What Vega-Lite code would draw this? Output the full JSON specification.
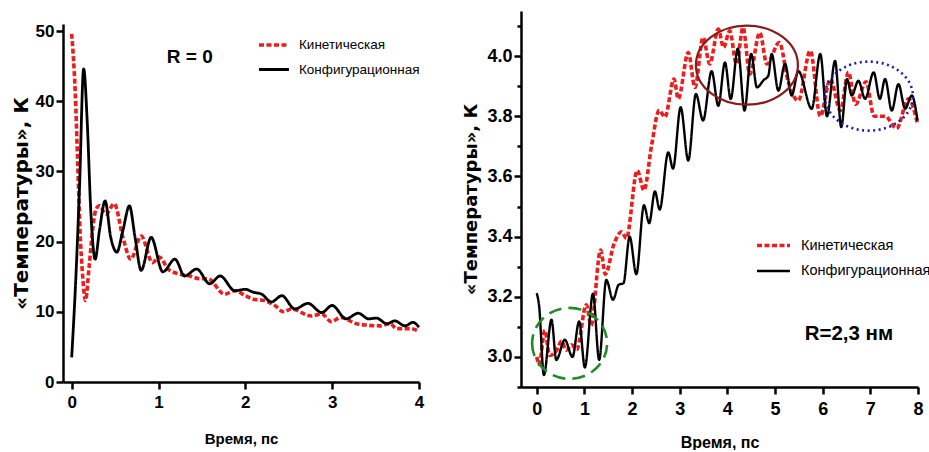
{
  "$schema": "https://vega.github.io/schema/vega-lite/v6.json",
  "background": "white",
  "padding": {"left": 11, "top": 11, "right": 2, "bottom": 0},
  "spacing": 38,
  "datasets": {
    "left": [
      {"t": 0, "T": 49.6, "series": "Кинетическая"},
      {"t": 0.04, "T": 41.5, "series": "Кинетическая"},
      {"t": 0.07, "T": 31, "series": "Кинетическая"},
      {"t": 0.096, "T": 21.6, "series": "Кинетическая"},
      {"t": 0.127, "T": 15, "series": "Кинетическая"},
      {"t": 0.158, "T": 11.6, "series": "Кинетическая"},
      {"t": 0.2, "T": 16.3, "series": "Кинетическая"},
      {"t": 0.24, "T": 21.6, "series": "Кинетическая"},
      {"t": 0.28, "T": 24.6, "series": "Кинетическая"},
      {"t": 0.32, "T": 25.1, "series": "Кинетическая"},
      {"t": 0.395, "T": 23.9, "series": "Кинетическая"},
      {"t": 0.49, "T": 25.4, "series": "Кинетическая"},
      {"t": 0.59, "T": 20.6, "series": "Кинетическая"},
      {"t": 0.68, "T": 17.5, "series": "Кинетическая"},
      {"t": 0.8, "T": 20.8, "series": "Кинетическая"},
      {"t": 0.93, "T": 17.0, "series": "Кинетическая"},
      {"t": 1.01, "T": 17.8, "series": "Кинетическая"},
      {"t": 1.11, "T": 16.1, "series": "Кинетическая"},
      {"t": 1.23, "T": 15.4, "series": "Кинетическая"},
      {"t": 1.36, "T": 15.1, "series": "Кинетическая"},
      {"t": 1.48, "T": 14.7, "series": "Кинетическая"},
      {"t": 1.57, "T": 14.7, "series": "Кинетическая"},
      {"t": 1.76, "T": 12.5, "series": "Кинетическая"},
      {"t": 1.88, "T": 13.0, "series": "Кинетическая"},
      {"t": 2.0, "T": 12.3, "series": "Кинетическая"},
      {"t": 2.09, "T": 11.8, "series": "Кинетическая"},
      {"t": 2.22, "T": 11.6, "series": "Кинетическая"},
      {"t": 2.34, "T": 10.9, "series": "Кинетическая"},
      {"t": 2.44, "T": 10.0, "series": "Кинетическая"},
      {"t": 2.53, "T": 10.4, "series": "Кинетическая"},
      {"t": 2.76, "T": 9.4, "series": "Кинетическая"},
      {"t": 2.88, "T": 9.7, "series": "Кинетическая"},
      {"t": 2.99, "T": 8.6, "series": "Кинетическая"},
      {"t": 3.1, "T": 9.2, "series": "Кинетическая"},
      {"t": 3.28, "T": 8.3, "series": "Кинетическая"},
      {"t": 3.4, "T": 8.1, "series": "Кинетическая"},
      {"t": 3.55, "T": 8.0, "series": "Кинетическая"},
      {"t": 3.67, "T": 8.3, "series": "Кинетическая"},
      {"t": 3.74, "T": 7.6, "series": "Кинетическая"},
      {"t": 3.9, "T": 7.6, "series": "Кинетическая"},
      {"t": 4.0, "T": 7.2, "series": "Кинетическая"},
      {"t": 0, "T": 3.5, "series": "Конфигурационная"},
      {"t": 0.05, "T": 15.4, "series": "Конфигурационная"},
      {"t": 0.09, "T": 27.7, "series": "Конфигурационная"},
      {"t": 0.138, "T": 44.6, "series": "Конфигурационная"},
      {"t": 0.18, "T": 36.8, "series": "Конфигурационная"},
      {"t": 0.22, "T": 24.4, "series": "Конфигурационная"},
      {"t": 0.27, "T": 17.5, "series": "Конфигурационная"},
      {"t": 0.32, "T": 21.6, "series": "Конфигурационная"},
      {"t": 0.385, "T": 25.8, "series": "Конфигурационная"},
      {"t": 0.45, "T": 20.6, "series": "Конфигурационная"},
      {"t": 0.52, "T": 18.5, "series": "Конфигурационная"},
      {"t": 0.59, "T": 21.6, "series": "Конфигурационная"},
      {"t": 0.665, "T": 25.1, "series": "Конфигурационная"},
      {"t": 0.73, "T": 20.6, "series": "Конфигурационная"},
      {"t": 0.8, "T": 15.9, "series": "Конфигурационная"},
      {"t": 0.915, "T": 20.6, "series": "Конфигурационная"},
      {"t": 1.05, "T": 15.7, "series": "Конфигурационная"},
      {"t": 1.19, "T": 17.5, "series": "Конфигурационная"},
      {"t": 1.3, "T": 15.1, "series": "Конфигурационная"},
      {"t": 1.44, "T": 16.1, "series": "Конфигурационная"},
      {"t": 1.59, "T": 14.0, "series": "Конфигурационная"},
      {"t": 1.71, "T": 15.1, "series": "Конфигурационная"},
      {"t": 1.88, "T": 13.0, "series": "Конфигурационная"},
      {"t": 2.0, "T": 13.2, "series": "Конфигурационная"},
      {"t": 2.09, "T": 12.8, "series": "Конфигурационная"},
      {"t": 2.19, "T": 12.5, "series": "Конфигурационная"},
      {"t": 2.3, "T": 11.4, "series": "Конфигурационная"},
      {"t": 2.42, "T": 12.3, "series": "Конфигурационная"},
      {"t": 2.57, "T": 10.4, "series": "Конфигурационная"},
      {"t": 2.72, "T": 11.2, "series": "Конфигурационная"},
      {"t": 2.88, "T": 9.9, "series": "Конфигурационная"},
      {"t": 3.0, "T": 10.9, "series": "Конфигурационная"},
      {"t": 3.16, "T": 9.0, "series": "Конфигурационная"},
      {"t": 3.3, "T": 9.8, "series": "Конфигурационная"},
      {"t": 3.42, "T": 9.0, "series": "Конфигурационная"},
      {"t": 3.51, "T": 9.1, "series": "Конфигурационная"},
      {"t": 3.63, "T": 8.3, "series": "Конфигурационная"},
      {"t": 3.72, "T": 8.7, "series": "Конфигурационная"},
      {"t": 3.84, "T": 8.0, "series": "Конфигурационная"},
      {"t": 3.93, "T": 8.5, "series": "Конфигурационная"},
      {"t": 4.0, "T": 7.8, "series": "Конфигурационная"}
    ],
    "right": [
      {"t": 0, "T": 3.0, "series": "Кинетическая"},
      {"t": 0.05, "T": 2.975, "series": "Кинетическая"},
      {"t": 0.17, "T": 3.088, "series": "Кинетическая"},
      {"t": 0.27, "T": 3.005, "series": "Кинетическая"},
      {"t": 0.41, "T": 3.02, "series": "Кинетическая"},
      {"t": 0.52, "T": 3.052, "series": "Кинетическая"},
      {"t": 0.62, "T": 3.022, "series": "Кинетическая"},
      {"t": 0.73, "T": 3.04, "series": "Кинетическая"},
      {"t": 0.84, "T": 3.025, "series": "Кинетическая"},
      {"t": 1.04, "T": 3.173, "series": "Кинетическая"},
      {"t": 1.14, "T": 3.105, "series": "Кинетическая"},
      {"t": 1.34, "T": 3.355, "series": "Кинетическая"},
      {"t": 1.44, "T": 3.275, "series": "Кинетическая"},
      {"t": 1.62, "T": 3.375, "series": "Кинетическая"},
      {"t": 1.78, "T": 3.416, "series": "Кинетическая"},
      {"t": 1.88, "T": 3.394, "series": "Кинетическая"},
      {"t": 2.11, "T": 3.62, "series": "Кинетическая"},
      {"t": 2.25, "T": 3.554, "series": "Кинетическая"},
      {"t": 2.41, "T": 3.703, "series": "Кинетическая"},
      {"t": 2.57, "T": 3.82, "series": "Кинетическая"},
      {"t": 2.69, "T": 3.797, "series": "Кинетическая"},
      {"t": 2.88, "T": 3.924, "series": "Кинетическая"},
      {"t": 2.97, "T": 3.858, "series": "Кинетическая"},
      {"t": 3.18, "T": 4.012, "series": "Кинетическая"},
      {"t": 3.32, "T": 3.896, "series": "Кинетическая"},
      {"t": 3.49, "T": 4.062, "series": "Кинетическая"},
      {"t": 3.63, "T": 3.974, "series": "Кинетическая"},
      {"t": 3.81, "T": 4.09, "series": "Кинетическая"},
      {"t": 3.92, "T": 4.029, "series": "Кинетическая"},
      {"t": 4.05, "T": 4.084, "series": "Кинетическая"},
      {"t": 4.19, "T": 3.974, "series": "Кинетическая"},
      {"t": 4.33, "T": 4.095, "series": "Кинетическая"},
      {"t": 4.47, "T": 3.94, "series": "Кинетическая"},
      {"t": 4.68, "T": 4.078, "series": "Кинетическая"},
      {"t": 4.83, "T": 3.974, "series": "Кинетическая"},
      {"t": 5.09, "T": 4.045, "series": "Кинетическая"},
      {"t": 5.28, "T": 3.913, "series": "Кинетическая"},
      {"t": 5.49, "T": 3.852, "series": "Кинетическая"},
      {"t": 5.74, "T": 4.018, "series": "Кинетическая"},
      {"t": 5.95, "T": 3.8, "series": "Кинетическая"},
      {"t": 6.16, "T": 3.924, "series": "Кинетическая"},
      {"t": 6.37, "T": 3.819, "series": "Кинетическая"},
      {"t": 6.54, "T": 3.946, "series": "Кинетическая"},
      {"t": 6.69, "T": 3.84, "series": "Кинетическая"},
      {"t": 6.91, "T": 3.915, "series": "Кинетическая"},
      {"t": 7.08, "T": 3.8, "series": "Кинетическая"},
      {"t": 7.31, "T": 3.8, "series": "Кинетическая"},
      {"t": 7.55, "T": 3.76, "series": "Кинетическая"},
      {"t": 7.8, "T": 3.858, "series": "Кинетическая"},
      {"t": 7.99, "T": 3.775, "series": "Кинетическая"},
      {"t": 0, "T": 3.212, "series": "Конфигурационная"},
      {"t": 0.05, "T": 3.17, "series": "Конфигурационная"},
      {"t": 0.15, "T": 2.94, "series": "Конфигурационная"},
      {"t": 0.31, "T": 3.124, "series": "Конфигурационная"},
      {"t": 0.41, "T": 2.99, "series": "Конфигурационная"},
      {"t": 0.59, "T": 3.057, "series": "Конфигурационная"},
      {"t": 0.75, "T": 3.0, "series": "Конфигурационная"},
      {"t": 0.89, "T": 3.118, "series": "Конфигурационная"},
      {"t": 1.01, "T": 2.965, "series": "Конфигурационная"},
      {"t": 1.18, "T": 3.21, "series": "Конфигурационная"},
      {"t": 1.31, "T": 2.99, "series": "Конфигурационная"},
      {"t": 1.46, "T": 3.256, "series": "Конфигурационная"},
      {"t": 1.6, "T": 3.19, "series": "Конфигурационная"},
      {"t": 1.72, "T": 3.24, "series": "Конфигурационная"},
      {"t": 1.82, "T": 3.245, "series": "Конфигурационная"},
      {"t": 1.95, "T": 3.4, "series": "Конфигурационная"},
      {"t": 2.09, "T": 3.275, "series": "Конфигурационная"},
      {"t": 2.25, "T": 3.504, "series": "Конфигурационная"},
      {"t": 2.36, "T": 3.445, "series": "Конфигурационная"},
      {"t": 2.48, "T": 3.55, "series": "Конфигурационная"},
      {"t": 2.58, "T": 3.49, "series": "Конфигурационная"},
      {"t": 2.76, "T": 3.68, "series": "Конфигурационная"},
      {"t": 2.86, "T": 3.626, "series": "Конфигурационная"},
      {"t": 3.02, "T": 3.83, "series": "Конфигурационная"},
      {"t": 3.18, "T": 3.653, "series": "Конфигурационная"},
      {"t": 3.34, "T": 3.874, "series": "Конфигурационная"},
      {"t": 3.49, "T": 3.786, "series": "Конфигурационная"},
      {"t": 3.67, "T": 3.95, "series": "Конфигурационная"},
      {"t": 3.81, "T": 3.835, "series": "Конфигурационная"},
      {"t": 3.95, "T": 3.979, "series": "Конфигурационная"},
      {"t": 4.07, "T": 3.857, "series": "Конфигурационная"},
      {"t": 4.22, "T": 4.025, "series": "Конфигурационная"},
      {"t": 4.36, "T": 3.819, "series": "Конфигурационная"},
      {"t": 4.5, "T": 4.007, "series": "Конфигурационная"},
      {"t": 4.62, "T": 3.896, "series": "Конфигурационная"},
      {"t": 4.76, "T": 3.92, "series": "Конфигурационная"},
      {"t": 4.86, "T": 3.935, "series": "Конфигурационная"},
      {"t": 4.93, "T": 4.007, "series": "Конфигурационная"},
      {"t": 5.07, "T": 3.885, "series": "Конфигурационная"},
      {"t": 5.21, "T": 3.974, "series": "Конфигурационная"},
      {"t": 5.35, "T": 3.869, "series": "Конфигурационная"},
      {"t": 5.49, "T": 3.95, "series": "Конфигурационная"},
      {"t": 5.77, "T": 3.825, "series": "Конфигурационная"},
      {"t": 5.95, "T": 4.007, "series": "Конфигурационная"},
      {"t": 6.09, "T": 3.8, "series": "Конфигурационная"},
      {"t": 6.26, "T": 3.984, "series": "Конфигурационная"},
      {"t": 6.39, "T": 3.764, "series": "Конфигурационная"},
      {"t": 6.51, "T": 3.924, "series": "Конфигурационная"},
      {"t": 6.61, "T": 3.869, "series": "Конфигурационная"},
      {"t": 6.75, "T": 3.918, "series": "Конфигурационная"},
      {"t": 6.89, "T": 3.858, "series": "Конфигурационная"},
      {"t": 7.07, "T": 3.946, "series": "Конфигурационная"},
      {"t": 7.2, "T": 3.858, "series": "Конфигурационная"},
      {"t": 7.31, "T": 3.924, "series": "Конфигурационная"},
      {"t": 7.45, "T": 3.819, "series": "Конфигурационная"},
      {"t": 7.59, "T": 3.907, "series": "Конфигурационная"},
      {"t": 7.73, "T": 3.825, "series": "Конфигурационная"},
      {"t": 7.87, "T": 3.869, "series": "Конфигурационная"},
      {"t": 7.99, "T": 3.786, "series": "Конфигурационная"}
    ],
    "leftNotes": [{"t": 1.36, "T": 46.3, "label": "R = 0"}],
    "rightNotes": [{"t": 6.55, "T": 3.076, "label": "R=2,3 нм"}],
    "ovalBrown": [{"t": 4.41, "T": 3.97}],
    "ovalBlue": [{"t": 6.97, "T": 3.867}],
    "ovalGreen": [{"t": 0.69, "T": 3.045}],
    "spacer": []
  },
  "config": {
    "view": {"stroke": null},
    "font": "Liberation Sans",
    "axis": {
      "grid": false,
      "domainColor": "black",
      "domainWidth": 2.5,
      "tickColor": "black",
      "tickWidth": 2.5,
      "labelColor": "black",
      "labelFontWeight": "bold",
      "labelFont": "Liberation Sans",
      "labelFlush": false,
      "labelOverlap": false,
      "titleColor": "black",
      "titleFontWeight": "bold"
    },
    "legend": {
      "orient": "none",
      "title": null,
      "padding": 0,
      "symbolType": "stroke",
      "symbolStrokeWidth": 4,
      "labelColor": "black",
      "labelFont": "Liberation Sans"
    }
  },
  "resolve": {
    "scale": {"color": "independent", "strokeDash": "independent", "strokeWidth": "independent"},
    "legend": {"color": "independent"}
  },
  "hconcat": [
    {
      "spacing": 10,
      "resolve": {
        "scale": {"color": "independent", "strokeDash": "independent", "strokeWidth": "independent"},
        "legend": {"color": "independent"}
      },
      "vconcat": [
        {
          "width": 1,
          "height": 1,
          "data": {"name": "spacer"},
          "mark": {"type": "rect", "opacity": 0},
          "encoding": {}
        },
        {
          "width": 356,
          "height": 358,
          "layer": [
            {
              "data": {"name": "left"},
              "mark": {"type": "line", "interpolate": "monotone", "strokeCap": "butt", "strokeJoin": "round"},
              "encoding": {
                "x": {
                  "field": "t", "type": "quantitative",
                  "scale": {"domain": [-0.1, 4], "nice": false, "zero": false},
                  "axis": {
                    "values": [0, 0.5, 1, 1.5, 2, 2.5, 3, 3.5, 4],
                    "format": "d",
                    "labelExpr": "datum.value % 1 === 0 ? datum.label : ''",
                    "tickSize": {"condition": {"test": "datum.value % 1 !== 0", "value": 4}, "value": 7},
                    "labelFontSize": 17,
                    "labelPadding": 5,
                    "title": "Время, пс",
                    "titleFont": "Liberation Sans",
                    "titleFontSize": 15,
                    "titlePadding": 21
                  }
                },
                "y": {
                  "field": "T", "type": "quantitative",
                  "scale": {"domain": [0, 51], "nice": false},
                  "axis": {
                    "values": [0, 5, 10, 15, 20, 25, 30, 35, 40, 45, 50],
                    "labelExpr": "datum.value % 10 === 0 ? datum.label : ''",
                    "tickSize": {"condition": {"test": "datum.value % 10 !== 0", "value": 4}, "value": 7},
                    "labelFontSize": 17,
                    "labelPadding": 2,
                    "title": "«Температуры», К",
                    "titleFont": "DejaVu Sans",
                    "titleFontSize": 20,
                    "titlePadding": 4
                  }
                },
                "color": {
                  "field": "series", "type": "nominal",
                  "scale": {"domain": ["Кинетическая", "Конфигурационная"], "range": ["#ee1c1c", "#000000"]},
                  "legend": {
                    "legendX": 194, "legendY": 4,
                    "symbolSize": 900,
                    "labelFontSize": 13.5,
                    "labelOffset": 8,
                    "rowPadding": -6
                  }
                },
                "strokeDash": {
                  "field": "series", "type": "nominal",
                  "scale": {"domain": ["Кинетическая", "Конфигурационная"], "range": [[5, 2.5], [1, 0]]},
                  "legend": null
                },
                "strokeWidth": {
                  "field": "series", "type": "nominal",
                  "scale": {"type": "ordinal", "domain": ["Кинетическая", "Конфигурационная"], "range": [3.6, 2.8]},
                  "legend": null
                }
              }
            },
            {
              "data": {"name": "leftNotes"},
              "mark": {"type": "text", "fontSize": 19, "fontWeight": "bold", "color": "black", "font": "Liberation Sans"},
              "encoding": {
                "x": {"field": "t", "type": "quantitative"},
                "y": {"field": "T", "type": "quantitative"},
                "text": {"field": "label"}
              }
            }
          ]
        }
      ]
    },
    {
      "width": 397,
      "height": 376,
      "resolve": {"axis": {"y": "independent"}},
      "layer": [
        {
          "data": {"name": "right"},
          "mark": {"type": "line", "interpolate": "monotone", "strokeCap": "butt", "strokeJoin": "round"},
          "encoding": {
            "x": {
              "field": "t", "type": "quantitative",
              "scale": {"domain": [-0.33, 8], "nice": false, "zero": false},
              "axis": {
                "values": [0, 0.5, 1, 1.5, 2, 2.5, 3, 3.5, 4, 4.5, 5, 5.5, 6, 6.5, 7, 7.5, 8],
                "format": "d",
                "labelExpr": "datum.value % 1 === 0 ? datum.label : ''",
                "tickSize": {"condition": {"test": "datum.value % 1 !== 0", "value": 4}, "value": 7},
                "labelFontSize": 18,
                "labelPadding": 6,
                "title": "Время, пс",
                "titleFont": "Liberation Sans",
                "titleFontSize": 16,
                "titlePadding": 16
              }
            },
            "y": {
              "field": "T", "type": "quantitative",
              "scale": {"domain": [2.9, 4.15], "nice": false, "zero": false},
              "axis": {
                "orient": "left",
                "values": [3.0, 3.2, 3.4, 3.6, 3.8, 4.0],
                "format": ".1f",
                "tickSize": 7,
                "labelFontSize": 18,
                "labelPadding": 2,
                "title": "«Температуры», К",
                "titleFont": "DejaVu Sans",
                "titleFontSize": 18,
                "titlePadding": 6
              }
            },
            "color": {
              "field": "series", "type": "nominal",
              "scale": {"domain": ["Кинетическая", "Конфигурационная"], "range": ["#ee1c1c", "#000000"]},
              "legend": {
                "legendX": 234, "legendY": 216,
                "symbolSize": 1089,
                "labelFontSize": 14.5,
                "labelOffset": 9,
                "rowPadding": -11
              }
            },
            "strokeDash": {
              "field": "series", "type": "nominal",
              "scale": {"domain": ["Кинетическая", "Конфигурационная"], "range": [[5, 2.5], [1, 0]]},
              "legend": null
            },
            "strokeWidth": {
              "field": "series", "type": "nominal",
              "scale": {"type": "ordinal", "domain": ["Кинетическая", "Конфигурационная"], "range": [3.6, 2.4]},
              "legend": null
            }
          }
        },
        {
          "data": {"name": "ovalBrown"},
          "mark": {"type": "point", "shape": "M -1 0 A 1 0.775 0 1 0 1 0 A 1 0.775 0 1 0 -1 0 Z", "size": 10404, "filled": false, "stroke": "#8b1a1a", "strokeWidth": 2.2, "opacity": 1},
          "encoding": {
            "x": {"field": "t", "type": "quantitative"},
            "y": {
              "field": "T", "type": "quantitative",
              "axis": {
                "orient": "left",
                "values": [2.9, 3.1, 3.3, 3.5, 3.7, 3.9, 4.1],
                "labels": false,
                "domain": false,
                "tickSize": 4,
                "title": null
              }
            }
          }
        },
        {
          "data": {"name": "ovalBlue"},
          "mark": {"type": "point", "shape": "M -1 0 A 1 0.784 0 1 0 1 0 A 1 0.784 0 1 0 -1 0 Z", "size": 7744, "filled": false, "stroke": "#1c1caa", "strokeWidth": 2.6, "strokeDash": [2, 3.5], "opacity": 1},
          "encoding": {
            "x": {"field": "t", "type": "quantitative"},
            "y": {"field": "T", "type": "quantitative", "axis": null}
          }
        },
        {
          "data": {"name": "ovalGreen"},
          "mark": {"type": "point", "shape": "M -1 0 A 1 0.947 0 1 0 1 0 A 1 0.947 0 1 0 -1 0 Z", "size": 5625, "filled": false, "stroke": "#228b22", "strokeWidth": 2.6, "strokeDash": [13, 7], "opacity": 1},
          "encoding": {
            "x": {"field": "t", "type": "quantitative"},
            "y": {"field": "T", "type": "quantitative", "axis": null}
          }
        },
        {
          "data": {"name": "rightNotes"},
          "mark": {"type": "text", "fontSize": 20.5, "fontWeight": "bold", "color": "black", "font": "Liberation Sans"},
          "encoding": {
            "x": {"field": "t", "type": "quantitative"},
            "y": {"field": "T", "type": "quantitative", "axis": null},
            "text": {"field": "label"}
          }
        }
      ]
    }
  ]
}
